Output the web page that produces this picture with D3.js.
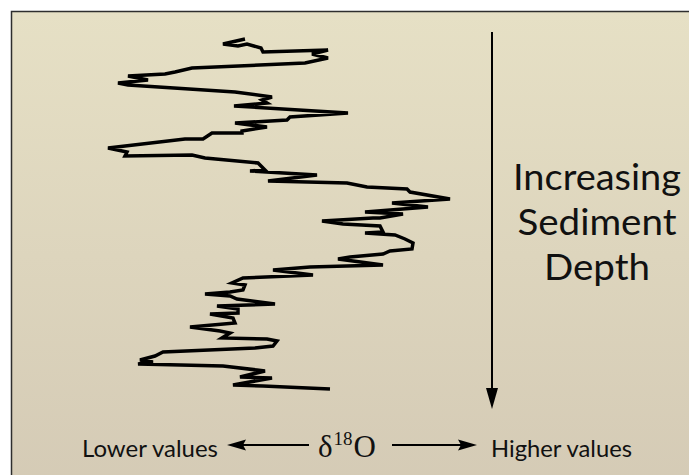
<!DOCTYPE html>
<html>
<head>
<meta charset="utf-8">
<script src="https://cdn.jsdelivr.net/npm/d3@7"></script>
<style>
  body { margin: 0; background: #fff; }
  svg { display: block; }
  .label { font-family: Lato, "Open Sans", sans-serif; fill: #111; }
</style>
</head>
<body>
<div id="chart"></div>
<script>
// ......................
// Data (relative units, no axis in the original)
// d18O: relative isotope value, depth: relative sediment depth
var d18O = [14.5, 12.3, 13.8, 14.7, 16.1, 16.3, 22.8, 21.2, 22.8, 20.5,
            9.2, 7.5, 6.5, 2.8, 4.8, 1.8, 2.8, 13.5, 17.2, 16.2,
            16.7, 13.4, 24.8, 19.0, 18.7, 13.5, 16.7, 14.2, 14.2, 11.2,
            10.3, 8.5, 0.8, 2.7, 2.5, 9.2, 10.5, 15.8, 16.5, 15.0,
            21.7, 16.8, 24.7, 26.7, 30.7, 31.0, 35.0, 29.2, 32.8, 26.5,
            30.3, 28.0, 27.3, 22.2, 24.3, 28.0, 28.3, 26.5, 29.5, 30.5,
            31.3, 31.2, 29.0, 28.3, 25.0, 23.8, 28.3, 21.0, 17.3, 21.3,
            14.3, 13.2, 14.5, 14.3, 13.0, 10.5, 13.0, 13.7, 17.5, 11.7,
            13.8, 13.8, 11.0, 13.3, 13.5, 9.0, 12.0, 13.0, 12.2, 16.7,
            17.7, 17.3, 15.5, 6.3, 5.5, 4.0, 5.3, 3.8, 12.3, 15.7,
            16.5, 14.0, 17.2, 13.3, 16.3, 23.0];
var depth = [9, 14, 16, 14, 18, 22, 20, 24, 28, 33,
             38, 42, 44, 46, 50, 53, 55, 62, 67, 70,
             73, 76, 83, 87, 90, 93, 97, 101, 103, 103,
             109, 109, 118, 122, 126, 125, 128, 133, 140, 141,
             145, 151, 153, 157, 159, 162, 169, 173, 177, 182,
             184, 188, 188, 191, 194, 196, 202, 203, 205, 209,
             213, 219, 221, 224, 227, 229, 235, 237, 240, 245,
             248, 253, 255, 260, 262, 264, 266, 269, 274, 276,
             279, 283, 284, 288, 293, 297, 301, 303, 308, 309,
             311, 316, 318, 322, 326, 330, 332, 334, 336, 340,
             341, 347, 348, 355, 356, 359];

var depthLabel = ["Increasing", "Sediment", "Depth"];
var depthLabelWidth = [168, 159, 106];
var lowLabel = "Lower values";
var highLabel = "Higher values";

// ......................
// SVG area
var svgWidth = 689;
var svgHeight = 475;

var svg = d3.select("#chart")
    .append("svg")
    .attr("width", svgWidth)
    .attr("height", svgHeight);

// background gradient
var grad = svg.append("defs").append("linearGradient")
    .attr("id", "bg")
    .attr("x1", 0).attr("y1", 0).attr("x2", 0).attr("y2", 1);
grad.append("stop").attr("offset", "0%").attr("stop-color", "#e6e0c5");
grad.append("stop").attr("offset", "100%").attr("stop-color", "#d4cab5");

svg.append("rect")
    .attr("x", 11.5)
    .attr("y", 11.5)
    .attr("width", 700)
    .attr("height", 490)
    .attr("fill", "url(#bg)")
    .attr("stroke", "#2e2e2e")
    .attr("stroke-width", 1.5);

// ......................
// scales
var xScale = d3.scaleLinear().domain([0, 40]).range([100, 500]);
var yScale = d3.scaleLinear().domain([0, 360]).range([30, 390]);

var points = d18O.map((v, i) => ({ v: v, d: depth[i] }));

var line = d3.line()
    .x(p => xScale(p.v))
    .y(p => yScale(p.d));

svg.append("path")
    .datum(points)
    .attr("d", line)
    .attr("fill", "none")
    .attr("stroke", "#000")
    .attr("stroke-width", 3.5)
    .attr("stroke-linejoin", "miter");

// ......................
// depth arrow (right)
var arrowX = 492;
svg.append("line")
    .attr("x1", arrowX).attr("x2", arrowX)
    .attr("y1", 32).attr("y2", 392)
    .attr("stroke", "#000")
    .attr("stroke-width", 2);

svg.append("path")
    .attr("d", `M${arrowX - 6},388 L${arrowX + 6},388 L${arrowX},409 Z`)
    .attr("fill", "#000");

var depthText = svg.append("g")
    .attr("transform", "translate(597, 0)");

depthText.selectAll("text")
    .data(depthLabel)
    .enter()
    .append("text")
    .attr("class", "label")
    .attr("text-anchor", "middle")
    .attr("x", 0)
    .attr("y", (t, i) => 190 + i * 45)
    .attr("font-size", 36)
    .attr("textLength", (t, i) => depthLabelWidth[i])
    .attr("lengthAdjust", "spacingAndGlyphs")
    .text(t => t);

// ......................
// bottom label with arrows
var labelY = 457;
var arrowY = 445;

svg.append("text")
    .attr("class", "label")
    .attr("x", 82)
    .attr("y", labelY)
    .attr("font-size", 23)
    .attr("textLength", 136)
    .attr("lengthAdjust", "spacingAndGlyphs")
    .text(lowLabel);

svg.append("text")
    .attr("class", "label")
    .attr("x", 491)
    .attr("y", labelY)
    .attr("font-size", 23)
    .attr("textLength", 141)
    .attr("lengthAdjust", "spacingAndGlyphs")
    .text(highLabel);

// δ18O in serif with superscript
var iso = svg.append("text")
    .attr("x", 318)
    .attr("y", labelY)
    .attr("font-family", "'Liberation Serif', 'DejaVu Serif', serif")
    .attr("font-size", 31)
    .attr("fill", "#111");
iso.append("tspan").text("δ");
iso.append("tspan").attr("font-size", 19).attr("dy", -12).attr("dx", 1).text("18");
iso.append("tspan").attr("dy", 12).attr("dx", 1).text("O");

// left arrow
svg.append("line")
    .attr("x1", 242).attr("x2", 309)
    .attr("y1", arrowY).attr("y2", arrowY)
    .attr("stroke", "#000").attr("stroke-width", 2);
svg.append("path")
    .attr("d", `M227,${arrowY} L246,${arrowY - 5.5} L243,${arrowY} L246,${arrowY + 5.5} Z`)
    .attr("fill", "#000");

// right arrow
svg.append("line")
    .attr("x1", 392).attr("x2", 462)
    .attr("y1", arrowY).attr("y2", arrowY)
    .attr("stroke", "#000").attr("stroke-width", 2);
svg.append("path")
    .attr("d", `M477,${arrowY} L458,${arrowY - 5.5} L461,${arrowY} L458,${arrowY + 5.5} Z`)
    .attr("fill", "#000");
</script>
</body>
</html>
